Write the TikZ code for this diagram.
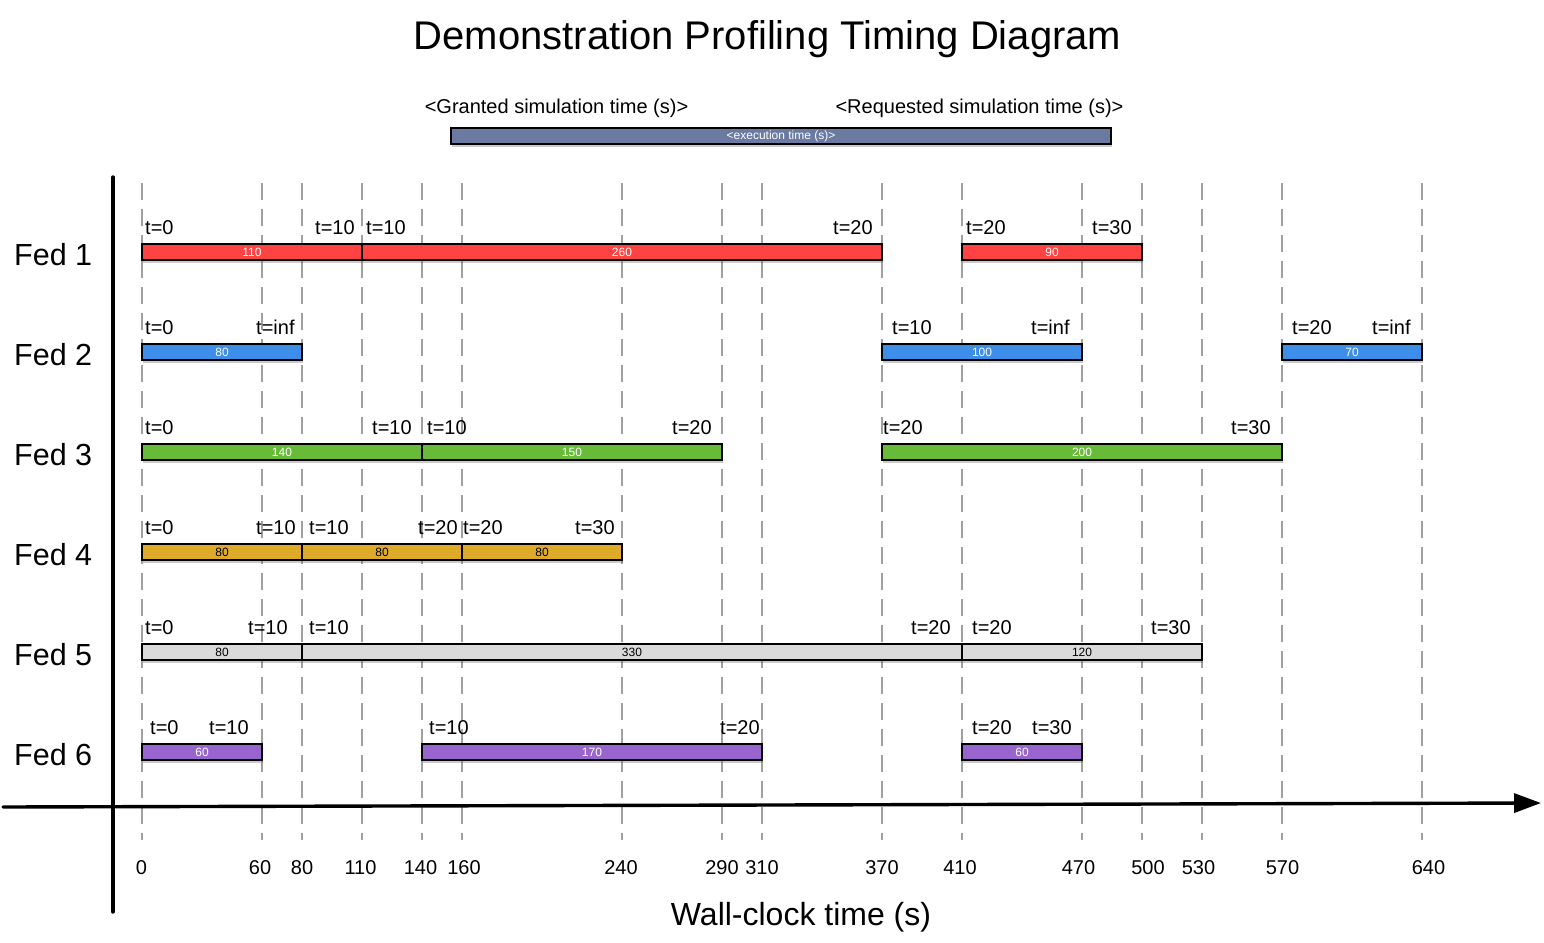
\documentclass[tikz,border=0pt]{standalone}
\usepackage{fontspec}
\setmainfont{Liberation Sans}
\usetikzlibrary{arrows.meta,shadows}
\definecolor{cRed}{RGB}{255,66,66}
\definecolor{cBlue}{RGB}{60,142,232}
\definecolor{cGreen}{RGB}{104,187,56}
\definecolor{cYellow}{RGB}{221,170,42}
\definecolor{cGray}{RGB}{218,218,218}
\definecolor{cPurple}{RGB}{152,101,206}
\definecolor{cLegend}{RGB}{107,122,161}
\definecolor{gridgray}{RGB}{160,160,160}
\newcommand\seg[7]{%
  \node[seg, fill=#5, text=#7, minimum width={2pt*(#3-#2)}] (#1) at ({142+#2+#3},{152+100*#4}) {#6};}
\newcommand\tl[4]{\node[tlab] (#1) at (#3,{134+100*#2}) {#4};}
\begin{document}
\begin{tikzpicture}[x=1pt,y=-1pt,
  seg/.style={draw=black, line width=2pt, minimum height=16pt, inner sep=0pt,
    font=\fontsize{12}{14}\selectfont,
    drop shadow={shadow xshift=1pt, shadow yshift=-2.5pt, opacity=.35, fill=black!60}},
  tlab/.style={anchor=base west, inner sep=0pt, font=\fontsize{20}{24}\selectfont},
  axlab/.style={anchor=base, inner sep=0pt, font=\fontsize{20}{24}\selectfont},
  fedlab/.style={anchor=base west, inner sep=0pt, font=\fontsize{30.5}{36}\selectfont},
  gridline/.style={draw=gridgray, line width=2pt, dash pattern=on 17pt off 9pt},
  axisline/.style={draw=black, line width=3.4pt, line cap=round}]
\useasboundingbox (0,0) rectangle (1544,942);

% title
\node[anchor=base, inner sep=0pt, font=\fontsize{40}{48}\selectfont] (title) at (767.5,50) {Demonstration Profiling Timing Diagram};

% legend
\node[anchor=base, inner sep=0pt, font=\fontsize{20}{24}\selectfont] (granted) at (556.5,113) {<Granted simulation time (s)>};
\node[anchor=base, inner sep=0pt, font=\fontsize{20}{24}\selectfont] (requested) at (979.5,113) {<Requested simulation time (s)>};
\node[seg, fill=cLegend, text=white, minimum width=660pt] (legend) at (781,136) {<execution time (s)>};

% grid lines
\foreach \t in {0,60,80,110,140,160,240,290,310,370,410,470,500,530,570,640}{
  \draw[gridline] ({142+2*\t},183) -- ({142+2*\t},840);
}

% axes
\coordinate (vtop) at (113,177);
\coordinate (vbot) at (113,912);
\coordinate (hleft) at (3,807);
\coordinate (hright) at (1541,803);
\draw[axisline] (vtop) -- (vbot);
\draw[axisline, -{Triangle[length=27pt,width=19pt]}] (hleft) -- (hright);

% axis labels
\foreach \x/\v in {141.5/0,260/60,302/80,360.5/110,420.5/140,464/160,621/240,722/290,762/310,882/370,960/410,1078.5/470,1148/500,1198.5/530,1282.5/570,1428.5/640}{
  \node[axlab] at (\x,874) {\v};
}
\node[anchor=base, inner sep=0pt, font=\fontsize{32}{38}\selectfont] (xlabel) at (801,925) {Wall-clock time (s)};

% fed labels
\foreach \r in {1,...,6}{
  \node[fedlab] (fed\r) at (14,{165+100*\r}) {Fed \r};
}

% bars
\seg{a1}{0}{110}{1}{cRed}{110}{white}
\seg{a2}{110}{370}{1}{cRed}{260}{white}
\seg{a3}{410}{500}{1}{cRed}{90}{white}
\seg{b1}{0}{80}{2}{cBlue}{80}{white}
\seg{b2}{370}{470}{2}{cBlue}{100}{white}
\seg{b3}{570}{640}{2}{cBlue}{70}{white}
\seg{c1}{0}{140}{3}{cGreen}{140}{white}
\seg{c2}{140}{290}{3}{cGreen}{150}{white}
\seg{c3}{370}{570}{3}{cGreen}{200}{white}
\seg{d1}{0}{80}{4}{cYellow}{80}{black}
\seg{d2}{80}{160}{4}{cYellow}{80}{black}
\seg{d3}{160}{240}{4}{cYellow}{80}{black}
\seg{e1}{0}{80}{5}{cGray}{80}{black}
\seg{e2}{80}{410}{5}{cGray}{330}{black}
\seg{e3}{410}{530}{5}{cGray}{120}{black}
\seg{f1}{0}{60}{6}{cPurple}{60}{white}
\seg{f2}{140}{310}{6}{cPurple}{170}{white}
\seg{f3}{410}{470}{6}{cPurple}{60}{white}

% time labels
\tl{ta1}{1}{145}{t=0}
\tl{ta2}{1}{315}{t=10}
\tl{ta3}{1}{366}{t=10}
\tl{ta4}{1}{833}{t=20}
\tl{ta5}{1}{966}{t=20}
\tl{ta6}{1}{1092}{t=30}
\tl{tb1}{2}{145}{t=0}
\tl{tb2}{2}{256}{t=inf}
\tl{tb3}{2}{892}{t=10}
\tl{tb4}{2}{1031}{t=inf}
\tl{tb5}{2}{1292}{t=20}
\tl{tb6}{2}{1372}{t=inf}
\tl{tc1}{3}{145}{t=0}
\tl{tc2}{3}{372}{t=10}
\tl{tc3}{3}{427}{t=10}
\tl{tc4}{3}{672}{t=20}
\tl{tc5}{3}{883}{t=20}
\tl{tc6}{3}{1231}{t=30}
\tl{td1}{4}{145}{t=0}
\tl{td2}{4}{256}{t=10}
\tl{td3}{4}{309}{t=10}
\tl{td4}{4}{418}{t=20}
\tl{td5}{4}{463}{t=20}
\tl{td6}{4}{575}{t=30}
\tl{te1}{5}{145}{t=0}
\tl{te2}{5}{248}{t=10}
\tl{te3}{5}{309}{t=10}
\tl{te4}{5}{911}{t=20}
\tl{te5}{5}{972}{t=20}
\tl{te6}{5}{1151}{t=30}
\tl{tf1}{6}{150}{t=0}
\tl{tf2}{6}{209}{t=10}
\tl{tf3}{6}{429}{t=10}
\tl{tf4}{6}{720}{t=20}
\tl{tf5}{6}{972}{t=20}
\tl{tf6}{6}{1032}{t=30}
\end{tikzpicture}
\end{document}
